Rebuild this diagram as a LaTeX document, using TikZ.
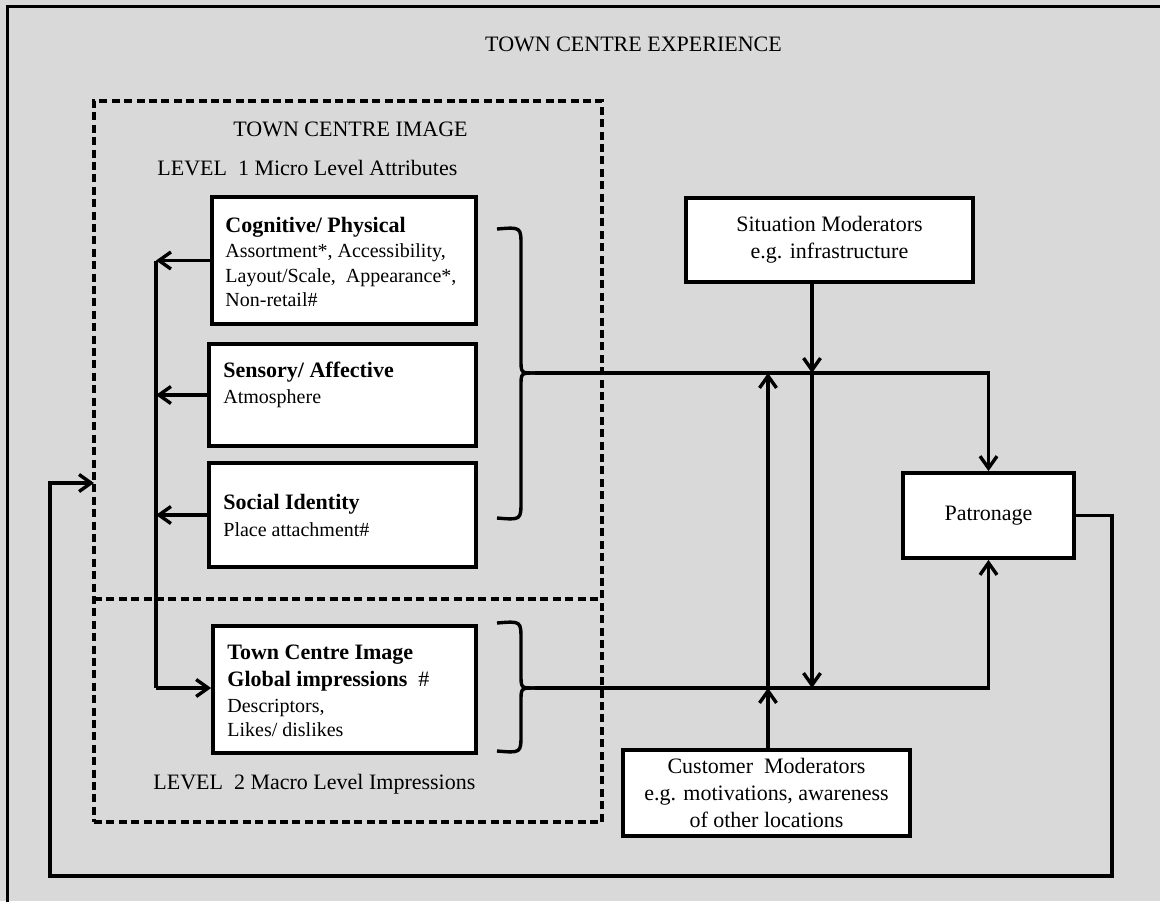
\documentclass[tikz,border=0pt]{standalone}
\usepackage{fontspec}
\setmainfont{Liberation Serif}
\usetikzlibrary{arrows.meta}
\definecolor{panel}{HTML}{D9D9D9}
\begin{document}
\begin{tikzpicture}[x=0.5pt,y=-0.5pt,
  box/.style={draw=black, fill=white, line width=1.9pt, inner sep=0pt},
  conn/.style={line width=1.7pt},
  arr/.style={conn, -{Straight Barb[length=6pt,width=8.5pt]}},
  brc/.style={line width=1.7pt},
  dsh/.style={draw=black, line width=1.6pt, dash pattern=on 4pt off 2.2pt},
  hd/.style={inner sep=0pt, anchor=base west, font=\fontsize{11}{13}\selectfont\bfseries},
  bd/.style={inner sep=0pt, anchor=base west, font=\fontsize{10}{12}\selectfont},
  lbl/.style={inner sep=0pt, anchor=base west, font=\fontsize{11}{13}\selectfont},
  ttl/.style={inner sep=0pt, anchor=base, font=\fontsize{11}{13}\selectfont},
  mod/.style={box, align=center, font=\fontsize{11}{13.5}\selectfont},
]
% canvas
\useasboundingbox (0,0) rectangle (1160,901);
\fill[panel] (0,0) rectangle (1160,901);
\begin{scope}
  \clip (0,0) rectangle (1160,901);
  \draw[line width=1.8pt] (7.5,6.5) rectangle (1220,960);
\end{scope}

% headings
\node[ttl] (title) at (633.5,51) {TOWN CENTRE EXPERIENCE};

% town centre image panel
\node[dsh, fill=none, minimum width=254pt, minimum height=360.5pt, inner sep=0pt] (tcimg) at (348,461.5) {};
\draw[dsh] (94,599) -- (602,599);
\node[ttl] (tcititle) at (350.5,136) {TOWN CENTRE IMAGE};
\node[lbl] (lvl1) at (157,175) {LEVEL\ \ 1 Micro Level Attributes};
\node[lbl] (lvl2) at (153,789) {LEVEL\ \ 2 Macro Level Impressions};

% attribute boxes
\node[box, minimum width=132pt, minimum height=63.5pt] (cog) at (344,260.5) {};
\node[hd] (cogh) at (225,232) {Cognitive/ Physical};
\node[bd] (cog1) at (225,257) {Assortment*, Accessibility,};
\node[bd] (cog2) at (225,282) {Layout/Scale,\ \ Appearance*,};
\node[bd] (cog3) at (225,306) {Non-retail\#};

\node[box, minimum width=133.5pt, minimum height=51pt] (sens) at (342.5,395) {};
\node[hd] (sensh) at (223,377) {Sensory/ Affective};
\node[bd] (sens1) at (223,403) {Atmosphere};

\node[box, minimum width=133.5pt, minimum height=52pt] (soc) at (342.5,515) {};
\node[hd] (soch) at (223,509) {Social Identity};
\node[bd] (soc1) at (223,536) {Place attachment\#};

\node[box, minimum width=131.5pt, minimum height=63.5pt] (tci) at (344.5,689.5) {};
\node[hd] (tcih) at (227,659) {Town Centre Image};
\node[hd] (tcig) at (227,686) {Global impressions\ \ {\mdseries\#}};
\node[bd] (tci1) at (227,712) {Descriptors,};
\node[bd] (tci2) at (227,736) {Likes/ dislikes};

% moderators and outcome
\node[mod, minimum width=143.5pt, minimum height=42pt] (sit) at (829.5,240) {Situation Moderators\\e.g. infrastructure};
\node[mod, minimum width=85.5pt, minimum height=42.5pt] (pat) at (988.5,515.5) {Patronage};
\node[mod, minimum width=143.5pt, minimum height=43pt] (cust) at (766.5,793) {Customer\ \ Moderators\\e.g. motivations, awareness\\of other locations};

% braces grouping the attribute boxes
\coordinate (uptip) at (535,373);
\coordinate (lowtip) at (535,688);
\draw[brc] (497,229) .. controls (521,227) .. (521,246) -- (521,360) .. controls (521,373) .. (uptip);
\draw[brc] (497,518) .. controls (521,520) .. (521,501) -- (521,386) .. controls (521,373) .. (uptip);
\draw[brc] (497,623) .. controls (521,621) .. (521,640) -- (521,675) .. controls (521,688) .. (lowtip);
\draw[brc] (497,751) .. controls (521,753) .. (521,734) -- (521,701) .. controls (521,688) .. (lowtip);

% feedback bus on the left
\coordinate (bustop) at (156,260.5);
\coordinate (busbot) at (156,688);
\draw[arr] (cog.west) -- (cog.west -| bustop);
\draw[arr] (sens.west) -- (sens.west -| bustop);
\draw[arr] (soc.west) -- (soc.west -| bustop);
\draw[conn] (bustop) -- (busbot);
\draw[arr] (busbot) -- (busbot -| tci.west);

% paths to patronage
\draw[arr] (uptip) -| (pat.north);
\draw[arr] (lowtip) -| (pat.south);

% situation moderators
\coordinate (sj) at (812,373);
\draw[arr] (sj |- sit.south) -- (sj);
\draw[arr] (sj) -- (sj |- lowtip);

% customer moderators
\coordinate (cj) at (768,688);
\draw[arr] (cj |- cust.north) -- (cj);
\draw[arr] (cj) -- (cj |- uptip);

% loop back from patronage
\coordinate (fbr) at (1112,876);
\coordinate (fbl) at (50,483);
\coordinate (fbin) at (94,483);
\draw[arr] (pat.east) -| (fbr) -| (fbl) -- (fbin);
\end{tikzpicture}
\end{document}
